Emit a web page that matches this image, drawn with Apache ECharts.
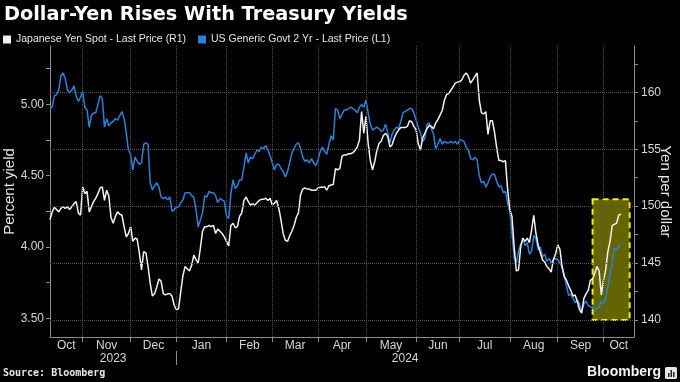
<!DOCTYPE html>
<html><head><meta charset="utf-8">
<script src="https://cdn.jsdelivr.net/npm/echarts@6/dist/echarts.min.js"></script>
<style>html,body{margin:0;padding:0;background:#000;}#c{width:680px;height:382px;}</style>
</head><body><div id="c"></div>
<script>
// x values are business-day indices (0 = Mon 2 Oct 2023); one value per business day
const firstDay = 7;
const ustYield = [
 4.97,4.98,5.06,5.07,5.10,5.20,5.22,5.18,5.10,5.08,
 5.10,5.13,5.06,5.02,5.05,5.09,4.98,4.96,4.84,4.92,
 4.94,4.94,5.00,5.06,5.04,4.84,4.90,4.85,4.87,4.88,
 4.90,4.89,4.92,4.95,4.90,4.80,4.68,4.65,4.54,4.63,
 4.60,4.58,4.59,4.72,4.73,4.72,4.45,4.40,4.43,4.45,
 4.42,4.35,4.34,4.35,4.33,4.35,4.25,4.26,4.28,4.28,
 4.31,4.33,4.38,4.38,4.38,4.36,4.35,4.26,4.14,4.19,
 4.24,4.36,4.35,4.39,4.38,4.38,4.36,4.31,4.34,4.33,
 4.32,4.22,4.20,4.37,4.47,4.41,4.43,4.47,4.47,4.56,
 4.66,4.59,4.63,4.62,4.65,4.68,4.67,4.70,4.69,4.71,
 4.68,4.64,4.59,4.54,4.58,4.58,4.55,4.53,4.49,4.53,
 4.59,4.66,4.69,4.72,4.73,4.69,4.63,4.60,4.61,4.59,
 4.62,4.59,4.57,4.61,4.67,4.70,4.67,4.65,4.72,4.78,
 4.75,4.97,4.96,4.90,4.93,4.96,4.96,4.97,4.98,4.97,
 4.96,4.94,4.98,5.00,4.98,5.03,4.94,4.86,4.82,4.83,
 4.84,4.83,4.81,4.82,4.86,4.80,4.73,4.79,4.82,4.84,
 4.83,4.88,4.94,4.95,4.96,4.97,4.97,4.94,4.89,4.84,
 4.80,4.74,4.76,4.86,4.87,4.83,4.79,4.69,4.72,4.76,
 4.72,4.74,4.73,4.73,4.74,4.73,4.74,4.72,4.75,4.75,
 4.74,4.70,4.68,4.62,4.61,4.63,4.61,4.50,4.45,4.46,
 4.42,4.45,4.49,4.51,4.51,4.46,4.42,4.43,4.38,4.39,
 4.31,4.25,4.10,3.93,3.89,3.97,4.02,4.05,4.01,4.03,
 3.95,3.97,4.08,4.06,3.98,4.00,3.93,3.95,3.90,3.92,
 3.89,3.91,3.92,3.91,3.89,3.86,3.80,3.73,3.66,3.67,
 3.64,3.61,3.63,3.60,3.55,3.60,3.62,3.59,3.58,3.58,
 3.55,3.57,3.58,3.62,3.60,3.64,3.72,3.81,3.89,3.99,
 3.98,4.00,4.02
];
const yenSpot = [
 148.8,149.5,149.9,149.7,149.5,149.8,149.95,149.8,149.95,149.7,
 149.95,150.2,150.4,149.4,149.2,151.7,151.1,151.3,149.5,149.95,
 150.4,150.7,151.1,151.6,151.7,150.5,151.4,150.9,149.0,148.5,
 149.1,149.5,149.3,149.2,148.2,147.3,147.6,148.2,146.9,147.2,
 147.1,145.9,144.4,146.0,145.9,144.7,143.2,142.1,142.3,142.9,
 143.6,143.4,142.3,142.2,142.3,142.3,142.1,141.3,140.9,141.0,
 142.5,143.9,144.7,144.5,144.3,144.8,145.7,145.3,145.0,146.3,
 147.8,148.2,148.2,148.3,148.2,148.3,147.6,148.0,147.8,147.6,
 147.3,146.9,146.5,148.3,148.5,148.1,148.2,149.1,149.4,150.5,
 150.8,150.4,150.1,150.2,150.1,150.3,150.5,150.6,150.6,150.7,
 150.5,150.7,150.1,150.25,150.5,149.8,148.8,147.6,147.0,146.9,
 147.4,147.8,148.3,149.0,149.4,151.0,151.5,151.6,151.5,151.5,
 151.4,151.4,151.4,151.6,151.65,151.65,151.7,151.4,151.8,151.85,
 151.9,153.3,153.2,153.3,154.4,154.5,154.5,154.6,154.6,154.7,
 154.9,155.2,155.8,158.3,156.4,157.9,155.5,154.0,153.2,153.9,
 154.9,155.5,155.7,156.2,156.4,156.1,155.2,155.4,156.0,156.4,
 156.7,156.9,156.9,156.9,157.0,157.5,157.4,157.0,156.7,155.5,
 154.9,156.0,156.4,156.8,157.1,157.0,156.8,157.3,157.6,158.0,
 158.4,159.3,159.8,159.9,160.2,160.5,160.8,160.9,160.9,161.1,
 161.5,161.7,161.4,160.8,161.1,161.4,161.7,159.3,158.2,158.1,
 158.3,156.3,157.5,157.5,156.5,155.1,154.0,154.0,153.9,154.0,
 151.5,149.7,149.1,146.4,144.3,144.4,146.4,147.2,146.9,147.2,
 146.8,147.9,149.2,147.6,146.6,145.9,145.3,145.1,144.7,144.5,
 144.2,145.3,145.8,146.6,146.2,144.7,143.8,143.5,143.0,142.6,
 142.1,142.2,141.6,140.9,140.6,141.9,142.3,142.6,143.5,143.6,
 144.1,144.7,144.3,142.2,143.5,144.4,146.0,146.9,148.3,148.4,
 148.5,149.2,149.3
];
const monthStarts = [22,44,65,88,109,130,152,175,195,218,240,261];
const monthNames = ['Oct','Nov','Dec','Jan','Feb','Mar','Apr','May','Jun','Jul','Aug','Sep','Oct'];
const yearNames = ['2023','2024'];
const yearBreak = 65;
const axisEndDay = 275;
const leftTicks = [3.5,3.75,4.0,4.25,4.5,4.75,5.0,5.25];
const leftLabels = [3.5,4.0,4.5,5.0];
const rightTicks = [140,142.5,145,147.5,150,152.5,155,157.5,160,162.5];
const rightLabels = [140,145,150,155,160];
const highlightBox = {from:256, to:273, low:140, high:150.6};

const yenName = 'Japanese Yen Spot - Last Price (R1)';
const ustName = 'US Generic Govt 2 Yr - Last Price (L1)';
const BLUE = '#2b82de';
const WHITE = '#f2f2f2';
const AXIS = '#8c8c8c';
const LBL = '#d6d6d6';
const FONT = 'Liberation Sans, Arial, sans-serif';

const bounds = [firstDay, ...monthStarts, axisEndDay];
const monthMids = monthNames.map((n,k)=>(bounds[k]+bounds[k+1])/2);
const yearMids = [(firstDay+yearBreak)/2, (yearBreak+axisEndDay)/2];
function nearestName(v, list, names){
  let best=-1, bd=1e9;
  list.forEach((p,k)=>{const d=Math.abs(p-v); if(d<bd){bd=d;best=k;}});
  return bd<0.01 ? names[best] : '';
}

const chart = echarts.init(document.getElementById('c'), null, {renderer:'canvas'});
chart.setOption({
  backgroundColor:'#000',
  animation:false,
  textStyle:{fontFamily:FONT},
  title:{text:'Dollar-Yen Rises With Treasury Yields', left:4, top:5, padding:0,
    textStyle:{color:'#fff', fontSize:19.3, fontWeight:'bold', fontFamily:'DejaVu Sans, sans-serif'}},
  legend:{data:[yenName, ustName], left:3, top:34, padding:0, icon:'rect', itemWidth:8, itemHeight:8, itemGap:12,
    textStyle:{color:'#e6e6e6', fontSize:10.5, fontFamily:FONT}},
  grid:{left:50, right:46, top:46, bottom:45, containLabel:false, outerBoundsMode:'none'},
  xAxis:[{
    type:'value', min:firstDay, max:axisEndDay, position:'bottom',
    axisLine:{show:true, lineStyle:{color:AXIS, width:1}},
    axisTick:{show:true, customValues:monthStarts, length:5, lineStyle:{color:AXIS}},
    axisLabel:{customValues:monthMids, formatter:v=>nearestName(v, monthMids, monthNames), color:LBL, fontSize:12, margin:3},
    splitLine:{show:false}
  },{
    type:'value', min:firstDay, max:axisEndDay, position:'bottom', offset:14,
    axisLine:{show:false},
    axisTick:{show:true, customValues:[yearBreak], length:14, lineStyle:{color:AXIS}},
    axisLabel:{customValues:yearMids, formatter:v=>nearestName(v, yearMids, yearNames), color:LBL, fontSize:12, margin:2},
    splitLine:{show:false}
  }],
  yAxis:[{
    type:'value', position:'left', min:3.369, max:5.409,
    axisLine:{show:true, lineStyle:{color:AXIS}},
    axisTick:{show:true, customValues:leftTicks, length:4, lineStyle:{color:AXIS}},
    axisLabel:{customValues:leftLabels, formatter:v=>v.toFixed(2), color:LBL, fontSize:12, margin:6},
    splitLine:{show:false},
    name:'Percent yield', nameLocation:'middle', nameRotate:90, nameGap:33, nameMoveOverlap:false,
    nameTextStyle:{color:'#e6e6e6', fontSize:15}
  },{
    type:'value', position:'right', min:138.507, max:164.067,
    axisLine:{show:true, lineStyle:{color:AXIS}},
    axisTick:{show:true, customValues:rightTicks, length:4, lineStyle:{color:AXIS}},
    axisLabel:{customValues:rightLabels, color:LBL, fontSize:12, margin:7},
    splitLine:{show:false},
    name:'Yen per dollar', nameLocation:'middle', nameRotate:-90, nameGap:24, nameMoveOverlap:false,
    nameTextStyle:{color:'#e6e6e6', fontSize:15}
  }],
  series:[
    {type:'line', name:'grid', data:[], xAxisIndex:0, yAxisIndex:1, z:1, silent:true,
     markLine:{silent:true, symbol:['none','none'], label:{show:false}, animation:false,
       lineStyle:{color:'#525252', type:'dotted', width:1},
       data:[...rightLabels.map(v=>({yAxis:v})), ...monthStarts.map(d=>({xAxis:d}))]}},
    {type:'line', name:ustName, xAxisIndex:0, yAxisIndex:0, z:3, showSymbol:false, symbol:'none',
     color:BLUE, lineStyle:{color:BLUE, width:1.5},
     data:ustYield.map((v,k)=>[firstDay+k, v])},
    {type:'line', name:yenName, xAxisIndex:0, yAxisIndex:1, z:4, showSymbol:false, symbol:'none',
     color:WHITE, lineStyle:{color:WHITE, width:1.5},
     data:yenSpot.map((v,k)=>[firstDay+k, v])},
    {type:'line', name:'box', data:[], xAxisIndex:0, yAxisIndex:1, z:6, silent:true,
     markArea:{silent:true, label:{show:false},
       itemStyle:{color:'rgba(240,240,0,0.42)', borderColor:'#f0f000', borderWidth:2, borderType:[6,4]},
       data:[[{xAxis:highlightBox.from, yAxis:highlightBox.high},{xAxis:highlightBox.to, yAxis:highlightBox.low}]]}}
  ],
  graphic:[
    {type:'text', left:3, top:368, style:{text:'Source: Bloomberg', fill:'#e6e6e6', font:'bold 10px "DejaVu Sans Mono", monospace'}},
    {type:'text', right:19, top:365, style:{text:'Bloomberg', fill:'#f2f2f2', font:'bold 14px "Liberation Sans", Arial, sans-serif'}},
    {type:'group', right:3, top:367, children:[
      {type:'rect', shape:{x:0,y:0,width:12,height:12,r:1.5}, style:{fill:'#e6e6e6'}},
      {type:'rect', shape:{x:3,y:6,width:1.5,height:4}, style:{fill:'#222'}},
      {type:'rect', shape:{x:5.5,y:3,width:1.5,height:7}, style:{fill:'#222'}},
      {type:'rect', shape:{x:8,y:5,width:1.5,height:5}, style:{fill:'#222'}}
    ]}
  ]
});
</script></body></html>
